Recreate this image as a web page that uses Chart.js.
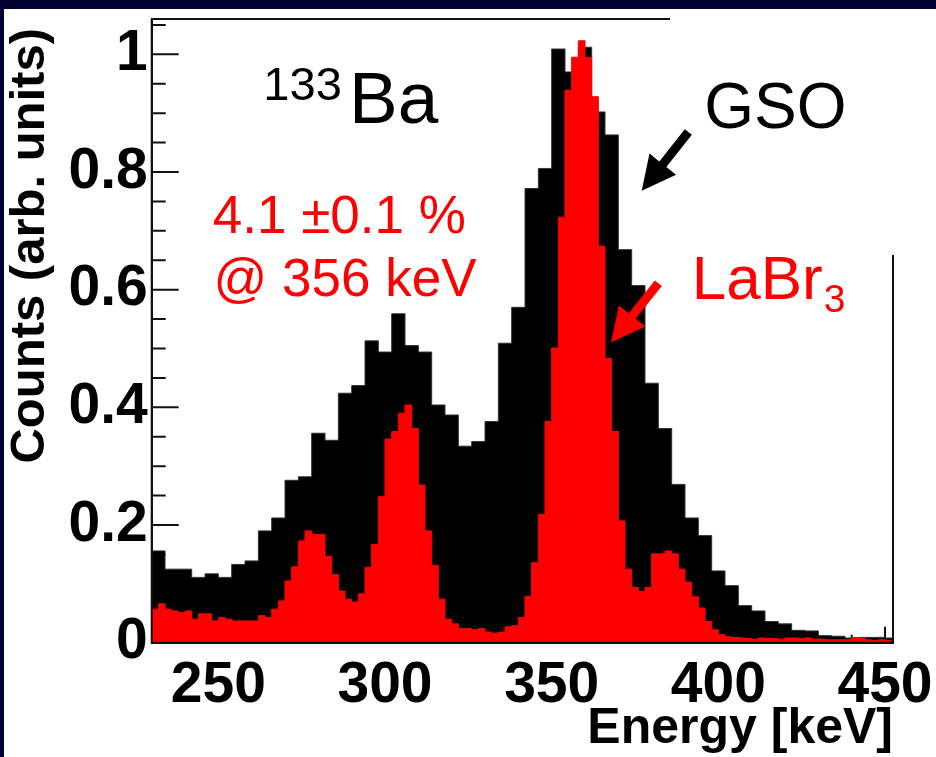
<!DOCTYPE html>
<html><head><meta charset="utf-8">
<script src="https://cdn.jsdelivr.net/npm/chart.js@4.4.0/dist/chart.umd.min.js"></script>
<style>
html,body{margin:0;padding:0;background:#000033;overflow:hidden;}
#wrap{position:absolute;left:4px;top:9px;width:932px;height:748px;background:#fff;}
canvas{display:block;}
</style></head><body><div id="wrap"><canvas id="c" width="932" height="748"></canvas></div>
<script>
// ---- data ----
const gsoBinStart = 230;      // keV, lower edge of first GSO bin
const gsoBinWidth = 4;        // keV
const gsoCounts = [
  0.156,0.125,0.125,0.111,0.117,0.111,0.133,0.139,0.190,0.212,
  0.276,0.282,0.356,0.344,0.424,0.437,0.513,0.494,0.559,0.505,
  0.494,0.404,0.387,0.334,0.342,0.376,0.509,0.570,0.772,0.806,
  1.009,0.970,1.012,0.902,0.863,0.668,0.607,0.441,0.364,0.269,
  0.212,0.182,0.122,0.097,0.063,0.054,0.036,0.032,0.021,0.020,
  0.012,0.011,0.008,0.009,0.009,0.008
];
const labr3BinStart = 230;    // keV
const labr3BinWidth = 2;      // keV
const labr3Counts = [
  0.057,0.066,0.057,0.054,0.051,0.054,0.040,0.049,0.049,0.037,
  0.043,0.040,0.037,0.037,0.037,0.037,0.046,0.043,0.057,0.071,
  0.105,0.129,0.173,0.190,0.184,0.184,0.147,0.116,0.088,0.074,
  0.069,0.083,0.128,0.167,0.248,0.346,0.359,0.390,0.404,0.364,
  0.268,0.190,0.131,0.074,0.040,0.032,0.024,0.024,0.022,0.024,
  0.018,0.016,0.018,0.027,0.029,0.043,0.079,0.136,0.218,0.376,
  0.501,0.723,0.939,0.995,1.023,0.995,0.928,0.674,0.483,0.359,
  0.207,0.125,0.094,0.087,0.094,0.151,0.151,0.156,0.151,0.125,
  0.103,0.078,0.059,0.036,0.022,0.014,0.010,0.009,0.008,0.007,
  0.006,0.008,0.007,0.007,0.006,0.008,0.008,0.007,0.008,0.006,
  0.006,0.005,0.005,0.005,0.005,0.009,0.008,0.005,0.004,0.005,
  0.004
];
const xTickValues = [250, 300, 350, 400, 450];
const xMinorTickValues = [240,260,270,280,290,310,320,330,340,360,370,380,390,410,420,430,440];
const yTickValues = [0, 0.2, 0.4, 0.6, 0.8, 1];
const yMinorTickValues = [0.05,0.1,0.15,0.25,0.3,0.35,0.45,0.5,0.55,0.65,0.7,0.75,0.85,0.9,0.95,1.05];
const xRange = [230, 452.4];
const yRange = [0, 1.06];
const xTitle = 'Energy [keV]';
const yTitle = 'Counts (arb. units)';

function histPoints(start, width, counts) {
  const pts = counts.map((v, i) => ({x: start + i * width, y: v}));
  pts.push({x: start + counts.length * width, y: counts[counts.length - 1]});
  return pts;
}

const FONT = "'Liberation Sans', Arial, Helvetica, sans-serif";

function noOverflow(s) { s.paddingTop = 0; s.paddingBottom = 0; s.paddingLeft = 0; s.paddingRight = 0; }

const ticksPlugin = {
  id: 'rootTicks',
  beforeDatasetsDraw(chart) {
    const {ctx, chartArea: a, scales: {x, y}} = chart;
    ctx.save();
    ctx.strokeStyle = '#111';
    ctx.lineWidth = 2;
    ctx.beginPath();
    yTickValues.forEach(v => { const p = y.getPixelForValue(v); ctx.moveTo(a.left, p); ctx.lineTo(a.left + 27, p); });
    yMinorTickValues.forEach(v => { const p = y.getPixelForValue(v); ctx.moveTo(a.left, p); ctx.lineTo(a.left + 14, p); });
    xTickValues.forEach(v => { const p = x.getPixelForValue(v); ctx.moveTo(p, a.bottom); ctx.lineTo(p, a.bottom - 16); });
    xMinorTickValues.forEach(v => { const p = x.getPixelForValue(v); ctx.moveTo(p, a.bottom); ctx.lineTo(p, a.bottom - 8); });
    ctx.moveTo(a.left, a.top); ctx.lineTo(a.right, a.top);
    ctx.moveTo(a.right, a.top); ctx.lineTo(a.right, a.bottom);
    ctx.stroke();
    ctx.restore();
  },
  afterDatasetsDraw(chart) {
    const {ctx, chartArea: a, scales: {x, y}} = chart;
    ctx.save();
    ctx.strokeStyle = '#111';
    ctx.lineWidth = 2;
    ctx.beginPath();
    ctx.moveTo(a.left, a.top); ctx.lineTo(a.left, a.bottom + 1);
    ctx.moveTo(a.left, a.bottom); ctx.lineTo(a.right, a.bottom);
    ctx.stroke();
    // white label box covering the frame (top-right)
    ctx.fillStyle = '#fff';
    const bx = x.getPixelForValue(385.5), by = y.getPixelForValue(0.659);
    ctx.fillRect(bx, 0, chart.width - bx, by);
    // y axis title (ROOT style: aligned to the top end)
    ctx.fillStyle = '#000';
    ctx.save();
    ctx.translate(26, a.top + 9);
    ctx.rotate(-Math.PI / 2);
    ctx.font = `bold 49px ${FONT}`;
    ctx.textAlign = 'right';
    ctx.textBaseline = 'middle';
    ctx.fillText(yTitle, 0, 0);
    ctx.restore();
    // texts
    ctx.textBaseline = 'alphabetic';
    ctx.textAlign = 'left';
    ctx.fillStyle = '#000';
    ctx.font = `47px ${FONT}`;
    ctx.fillText('133', x.getPixelForValue(263.5), y.getPixelForValue(0.922));
    ctx.font = `73px ${FONT}`;
    ctx.fillText('Ba', x.getPixelForValue(289.2), y.getPixelForValue(0.883));
    ctx.font = `64px ${FONT}`;
    ctx.fillText('GSO', x.getPixelForValue(395.8), y.getPixelForValue(0.875));
    ctx.fillStyle = '#ff0000';
    ctx.textAlign = 'center';
    ctx.font = `53px ${FONT}`;
    ctx.fillText('4.1 \u00b10.1 %', x.getPixelForValue(286.3), y.getPixelForValue(0.696));
    ctx.fillText('@ 356 keV', x.getPixelForValue(288.0), y.getPixelForValue(0.590));
    ctx.textAlign = 'left';
    ctx.font = `62px ${FONT}`;
    const lx = x.getPixelForValue(392.0), ly = y.getPixelForValue(0.584);
    ctx.fillText('LaBr', lx, ly);
    const w = ctx.measureText('LaBr').width;
    ctx.font = `39px ${FONT}`;
    ctx.fillText('3', lx + w + 1, ly + 13);
    function arrow(x1, y1, x2, y2, color) {
      const X1 = x.getPixelForValue(x1), Y1 = y.getPixelForValue(y1);
      const X2 = x.getPixelForValue(x2), Y2 = y.getPixelForValue(y2);
      const ang = Math.atan2(Y2 - Y1, X2 - X1);
      const hl = 34, hw = 17, sw = 4.5;
      const bxp = X2 - hl * Math.cos(ang), byp = Y2 - hl * Math.sin(ang);
      const nx = -Math.sin(ang), ny = Math.cos(ang);
      ctx.fillStyle = color;
      ctx.beginPath();
      ctx.moveTo(X1 + nx * sw, Y1 + ny * sw);
      ctx.lineTo(bxp + nx * sw, byp + ny * sw);
      ctx.lineTo(bxp + nx * hw, byp + ny * hw);
      ctx.lineTo(X2, Y2);
      ctx.lineTo(bxp - nx * hw, byp - ny * hw);
      ctx.lineTo(bxp - nx * sw, byp - ny * sw);
      ctx.lineTo(X1 - nx * sw, Y1 - ny * sw);
      ctx.closePath();
      ctx.fill();
    }
    arrow(391.0, 0.868, 377.0, 0.768, '#000');
    arrow(382.0, 0.611, 367.8, 0.510, '#ff0000');
    ctx.restore();
  }
};

new Chart(document.getElementById('c'), {
  type: 'line',
  data: {
    datasets: [
      {label: 'LaBr3', data: histPoints(labr3BinStart, labr3BinWidth, labr3Counts),
       stepped: true, fill: 'origin', backgroundColor: '#ff0000', borderColor: '#ff0000',
       borderWidth: 1, pointRadius: 0, order: 1},
      {label: 'GSO', data: histPoints(gsoBinStart, gsoBinWidth, gsoCounts),
       stepped: true, fill: 'origin', backgroundColor: '#000000', borderColor: '#333333',
       borderWidth: 1, pointRadius: 0, order: 2}
    ]
  },
  options: {
    responsive: false,
    animation: false,
    layout: {autoPadding: false, padding: {left: 0, top: 10, right: 43, bottom: 0}},
    plugins: {legend: {display: false}, tooltip: {enabled: false}},
    scales: {
      x: {
        type: 'linear', min: xRange[0], max: xRange[1],
        afterBuildTicks: s => { s.ticks = xTickValues.map(v => ({value: v})); },
        afterFit: s => { s.height = 114.3; noOverflow(s); },
        grid: {display: false, drawTicks: false},
        border: {display: true, color: '#111', width: 2},
        ticks: {color: '#000', padding: 9, maxRotation: 0, autoSkip: false,
                callback: v => String(v),
                font: {family: FONT, weight: 'bold', size: 57}},
        title: {display: true, text: xTitle, align: 'end', color: '#000',
                font: {family: FONT, weight: 'bold', size: 50, lineHeight: 1},
                padding: {top: 0, bottom: 3}}
      },
      y: {
        type: 'linear', min: yRange[0], max: yRange[1],
        afterBuildTicks: s => { s.ticks = yTickValues.map(v => ({value: v})); },
        afterFit: s => { s.width = 147.7; noOverflow(s); },
        grid: {display: false, drawTicks: false},
        border: {display: true, color: '#111', width: 2},
        ticks: {color: '#000', padding: 4,
                callback: v => String(+Number(v).toFixed(2)),
                font: {family: FONT, weight: 'bold', size: 57}},
        title: {display: false, text: yTitle}
      }
    }
  },
  plugins: [ticksPlugin]
});
</script></body></html>
